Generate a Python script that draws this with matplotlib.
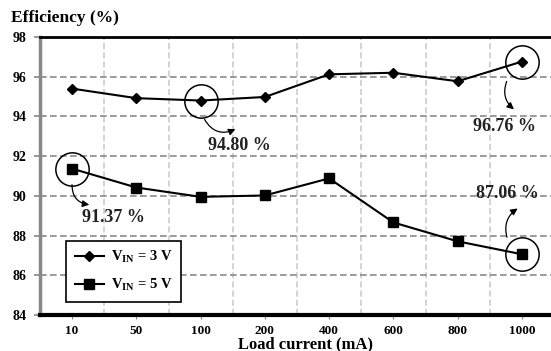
import matplotlib
matplotlib.use("Agg")
import matplotlib.pyplot as plt

# Data
loads = ["10", "50", "100", "200", "400", "600", "800", "1000"]
eff_3v = [95.4, 94.92, 94.80, 94.98, 96.12, 96.2, 95.77, 96.76]
eff_5v = [91.37, 90.42, 89.95, 90.02, 90.88, 88.66, 87.71, 87.06]
y_ticks = [84, 86, 88, 90, 92, 94, 96, 98]

plt.rcParams['font.family'] = ['Liberation Serif', 'DejaVu Serif']
plt.rcParams['font.weight'] = 'bold'
plt.rcParams['mathtext.fontset'] = 'custom'
plt.rcParams['mathtext.rm'] = 'Liberation Serif:bold'
plt.rcParams['mathtext.bf'] = 'Liberation Serif:bold'
plt.rcParams['mathtext.it'] = 'Liberation Serif:bold'

fig = plt.figure(figsize=(5.51, 3.51), dpi=100)
ax = fig.add_axes([40 / 551, 1 - 315 / 351, 514 / 551, 278 / 351])

x = list(range(len(loads)))
ax.plot(x, eff_3v, color='black', lw=1.5, marker='D', ms=5,
        label=r'V$_{\mathregular{IN}}$ = 3 V', zorder=4)
ax.plot(x, eff_5v, color='black', lw=1.5, marker='s', ms=7,
        label=r'V$_{\mathregular{IN}}$ = 5 V', zorder=4)

ax.set_xlim(-0.5, 7.5)
ax.set_ylim(84, 98)
ax.set_yticks(y_ticks)
ax.set_xticks(x)
ax.set_xticklabels(loads)
ax.tick_params(axis='x', labelsize=9.5, length=3, color='#888888', pad=4)
ax.tick_params(axis='y', labelsize=10, length=4, width=1.2, color='#888888', pad=6)
for lbl in ax.get_xticklabels() + ax.get_yticklabels():
    lbl.set_fontweight('bold')

# grid: dark dashed horizontal, light dashed vertical at half steps
ax.set_xticks([i * 0.5 - 0.5 for i in range(1, 17)], minor=True)
ax.tick_params(axis='x', which='minor', length=0)
ax.grid(axis='y', which='major', ls=(0, (4, 2)), color='#8a8a8a', lw=1.2)
ax.grid(axis='x', which='minor', ls=(0, (4, 2)), color='#c8c8c8', lw=1.1)
ax.set_axisbelow(True)

ax.spines['left'].set_color('#888888')
ax.spines['left'].set_linewidth(2.5)
ax.spines['bottom'].set_linewidth(3)
ax.spines['top'].set_linewidth(2)
ax.spines['right'].set_visible(False)

# circles around highlighted points
hl_x = [0, 2, 7, 7]
hl_y = [eff_5v[0], eff_3v[2], eff_3v[7], eff_5v[7]]
ax.plot(hl_x, hl_y, 'o', mfc='none', mec='black', ms=24, mew=1.1, zorder=5)

# annotations: text, arrow start, arrow head
notes = [
    ("94.80 %", (2.61, 92.56), (2.04, 93.97), (2.58, 93.42), 0.5),
    ("96.76 %", (6.73, 93.47), (6.78, 95.89), (6.91, 94.27), 0.4),
    ("91.37 %", (0.64, 88.89), (0.0, 90.70), (0.31, 89.54), 0.5),
    ("87.06 %", (6.78, 90.14), (6.78, 87.78), (6.97, 89.44), -0.4),
]
for txt, tpos, start, head, rad in notes:
    ax.text(tpos[0], tpos[1], txt, ha='center', va='center',
            fontsize=13, fontweight='bold', color='#222222', zorder=6)
    ax.annotate("", xy=head, xytext=start,
                arrowprops=dict(arrowstyle='-|>', color='black', lw=0.9,
                                mutation_scale=10,
                                connectionstyle=f'arc3,rad={rad}'),
                zorder=6)

leg = ax.legend(loc='lower left', bbox_to_anchor=(26 / 514, 13 / 278),
                borderaxespad=0, fontsize=10.5, frameon=True, fancybox=False,
                edgecolor='black', framealpha=1, handlelength=2.0,
                handletextpad=0.5, borderpad=0.6, labelspacing=0.8)
leg.get_frame().set_linewidth(1.2)
for t in leg.get_texts():
    t.set_fontweight('bold')

fig.text(11 / 551, 1 - 18 / 351, "Efficiency (%)", fontsize=12.5,
         fontweight='bold', va='center', ha='left')
fig.text(305 / 551, 1 - 348 / 351, "Load current (mA)", fontsize=12,
         fontweight='bold', va='baseline', ha='center')

fig.savefig("out.png", dpi=100)
